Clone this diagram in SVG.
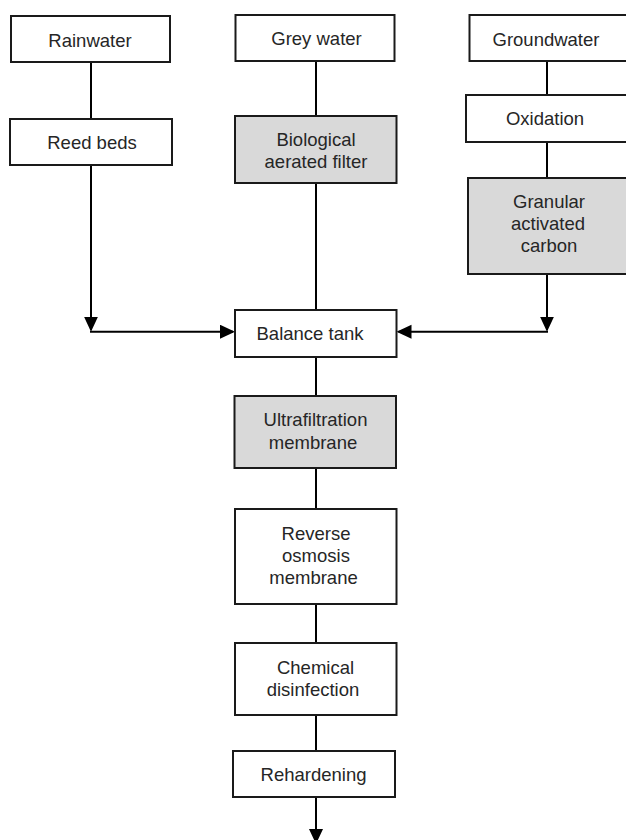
<svg xmlns="http://www.w3.org/2000/svg" width="626" height="840" viewBox="0 0 626 840">
<style>
.box{fill:#ffffff;stroke:#1a1a1a;stroke-width:2}
.grey{fill:#d9d9d9;stroke:#1a1a1a;stroke-width:2}
.lbl{font-family:"Liberation Sans",Arial,sans-serif;font-size:18.5px;fill:#262626;text-anchor:middle}
.con{fill:none;stroke:#000000;stroke-width:2}
</style>
<defs>
<marker id="arr" markerUnits="userSpaceOnUse" markerWidth="16" markerHeight="15" refX="13" refY="7" orient="auto">
<path d="M0,0 L15,7 L0,14 z" fill="#000000"/>
</marker>
</defs>
<rect x="0" y="0" width="626" height="840" fill="#ffffff"/>
<g id="connectors">
<line class="con" x1="91" y1="62" x2="91" y2="119"/>
<line class="con" x1="91" y1="165" x2="91" y2="329.7" marker-end="url(#arr)"/>
<line class="con" x1="90" y1="331.7" x2="233" y2="331.7" marker-end="url(#arr)"/>
<line class="con" x1="316" y1="61" x2="316" y2="116"/>
<line class="con" x1="316" y1="183" x2="316" y2="310"/>
<line class="con" x1="547" y1="61" x2="547" y2="95"/>
<line class="con" x1="547" y1="142" x2="547" y2="178"/>
<line class="con" x1="547" y1="274" x2="547" y2="329.7" marker-end="url(#arr)"/>
<line class="con" x1="548" y1="331.7" x2="398.5" y2="331.7" marker-end="url(#arr)"/>
<line class="con" x1="316" y1="357" x2="316" y2="396"/>
<line class="con" x1="316" y1="468" x2="316" y2="509"/>
<line class="con" x1="316" y1="604" x2="316" y2="643"/>
<line class="con" x1="316" y1="715" x2="316" y2="751"/>
<line class="con" x1="316" y1="797" x2="316" y2="842" marker-end="url(#arr)"/>
</g>
<g id="rainwater"><rect class="box" x="11" y="16" width="159" height="46"/><text class="lbl" x="90" y="46.5">Rainwater</text></g>
<g id="grey-water"><rect class="box" x="235.5" y="15" width="159" height="46"/><text class="lbl" x="316.5" y="45">Grey water</text></g>
<g id="groundwater"><rect class="box" x="469.5" y="15" width="162" height="46"/><text class="lbl" x="546" y="45.5">Groundwater</text></g>
<g id="reed-beds"><rect class="box" x="10" y="119" width="162" height="46"/><text class="lbl" x="92" y="149">Reed beds</text></g>
<g id="biological-aerated-filter"><rect class="grey" x="235" y="116" width="161.5" height="67"/><text class="lbl" x="316" y="145.5">Biological</text><text class="lbl" x="316" y="168">aerated filter</text></g>
<g id="oxidation"><rect class="box" x="466" y="95" width="166" height="47"/><text class="lbl" x="545" y="125">Oxidation</text></g>
<g id="granular-activated-carbon"><rect class="grey" x="468" y="178" width="164" height="96"/><text class="lbl" x="549" y="208">Granular</text><text class="lbl" x="548" y="230">activated</text><text class="lbl" x="549" y="252">carbon</text></g>
<g id="balance-tank"><rect class="box" x="235" y="310" width="161.5" height="47"/><text class="lbl" x="310" y="340">Balance tank</text></g>
<g id="ultrafiltration-membrane"><rect class="grey" x="234.5" y="396" width="161.5" height="72"/><text class="lbl" x="315.5" y="426">Ultrafiltration</text><text class="lbl" x="313" y="448.5">membrane</text></g>
<g id="reverse-osmosis-membrane"><rect class="box" x="235" y="509" width="161.5" height="95"/><text class="lbl" x="316" y="540">Reverse</text><text class="lbl" x="316" y="562">osmosis</text><text class="lbl" x="313.5" y="583.5">membrane</text></g>
<g id="chemical-disinfection"><rect class="box" x="235" y="643" width="161.5" height="72"/><text class="lbl" x="315.5" y="674">Chemical</text><text class="lbl" x="313" y="696">disinfection</text></g>
<g id="rehardening"><rect class="box" x="233" y="751" width="162" height="46"/><text class="lbl" x="313.5" y="781">Rehardening</text></g>
</svg>
